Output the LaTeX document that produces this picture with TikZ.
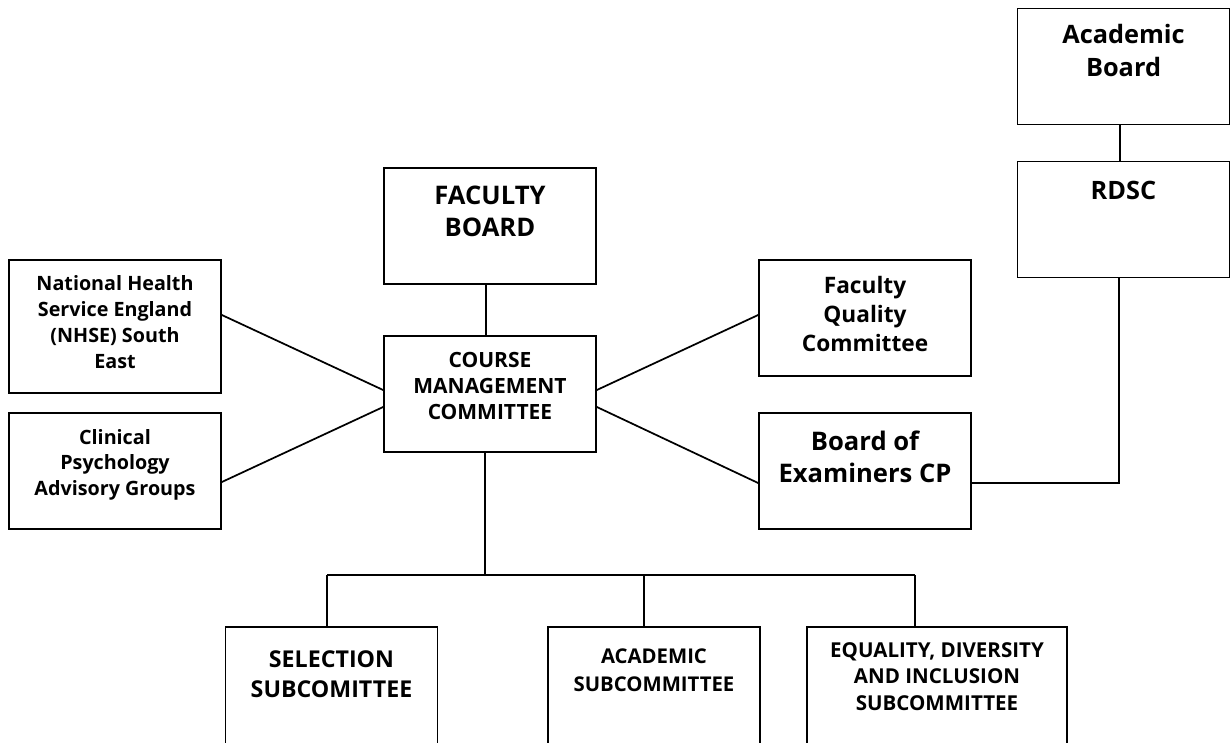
\documentclass[tikz,border=0pt]{standalone}
\usepackage{fontspec}
\setmainfont{Open Sans}[Ligatures=NoCommon]
\usetikzlibrary{positioning,calc}
\tikzset{
  box/.style={draw, line width=1.3pt, minimum width=159pt, minimum height=87pt, inner sep=0pt},
  lbl/.style 2 args={inner sep=0pt, align=center, font=\bfseries\fontsize{#1}{#2}\selectfont},
  link/.style={line width=1.3pt}
}
\begin{document}
\begin{tikzpicture}[x=0.75pt,y=-0.75pt]
\useasboundingbox (0,0) rectangle (1230,742);
\clip (0,0) rectangle (1230,742);
% boxes
\node[box] (acad) at (1123.5,66.5) {};
\node[box] (rdsc) at (1123.5,219.5) {};
\node[box] (fac) at (490,226) {};
\node[box, minimum height=100pt] (nhse) at (115,326.5) {};
\node[box] (cpag) at (115,471) {};
\node[box] (cmc) at (490,394) {};
\node[box] (fqc) at (865,318) {};
\node[box] (boe) at (865,471) {};
\node[box, minimum height=105pt] (sel) at (331.5,697) {};
\node[box, minimum height=105pt] (acsub) at (654,697) {};
\node[box, minimum height=105pt, minimum width=195pt] (edi) at (937,697) {};
% labels
\node[lbl={19pt}{24.75pt}, below=12.5pt of acad.north] (acad-t) {Academic\\Board};
\node[lbl={19pt}{24.75pt}, below=15.5pt of rdsc.north] (rdsc-t) {RDSC};
\node[lbl={19.2pt}{24pt}, below=14.25pt of fac.north] (fac-t) {FACULTY\\BOARD};
\node[lbl={14.8pt}{19.3pt}, below=12.5pt of nhse.north] (nhse-t) {National Health\\Service England\\(NHSE) South\\East};
\node[lbl={14.8pt}{19.3pt}, below=12.5pt of cpag.north] (cpag-t) {Clinical\\Psychology\\Advisory Groups};
\node[lbl={15.75pt}{19.5pt}, below=12.75pt of cmc.north] (cmc-t) {COURSE\\MANAGEMENT\\COMMITTEE};
\node[lbl={17pt}{21.75pt}, below=12.5pt of fqc.north] (fqc-t) {Faculty\\Quality\\Committee};
\node[lbl={19.2pt}{24pt}, below=14.25pt of boe.north] (boe-t) {Board of\\Examiners CP};
\node[lbl={17.4pt}{22.5pt}, below=18pt of sel.north] (sel-t) {SELECTION\\SUBCOMITTEE};
\node[lbl={15.25pt}{21pt}, below=16.5pt of acsub.north] (acsub-t) {ACADEMIC\\SUBCOMMITTEE};
\node[lbl={15.4pt}{20pt}, below=12pt of edi.north] (edi-t) {EQUALITY, DIVERSITY\\AND INCLUSION\\SUBCOMMITTEE};
% connectors
\draw[link] ($(acad.south)+(-3.5,0)$) -- ($(rdsc.north)+(-3.5,0)$);
\draw[link] ($(boe.east)+(0,12)$) -| ($(rdsc.south)+(-4.5,0)$);
\draw[link] ($(fac.south)+(-4,0)$) -- ($(cmc.north)+(-4,0)$);
\draw[link] ($(nhse.east)+(0,-11.5)$) -- ($(cmc.west)+(0,-4)$);
\draw[link] ($(cpag.east)+(0,11)$) -- ($(cmc.west)+(0,13)$);
\draw[link] ($(cmc.east)+(0,-4)$) -- ($(fqc.west)+(0,-3)$);
\draw[link] ($(cmc.east)+(0,13)$) -- ($(boe.west)+(0,12)$);
\coordinate (bus) at (485,575);
\draw[link] ($(cmc.south)+(-5,0)$) -- (bus);
\draw[link] (327,575) -- (915,575);
\foreach \x/\nd in {327/sel,644/acsub,915/edi}
  \draw[link] (\x,575) -- (\x,0 |- \nd.north);
\end{tikzpicture}
\end{document}
